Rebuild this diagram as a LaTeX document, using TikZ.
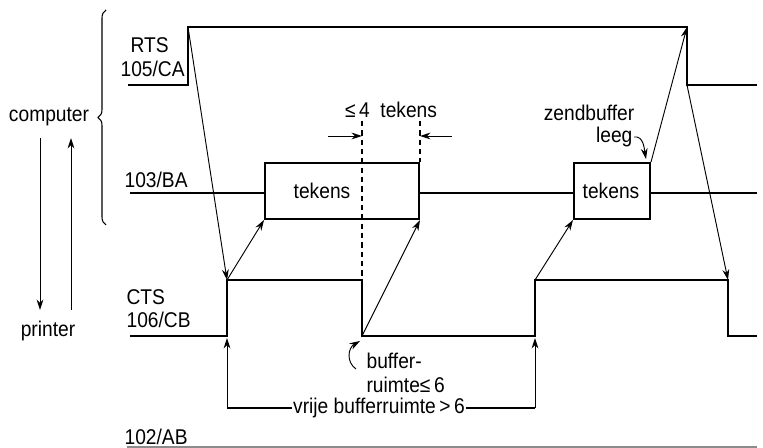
\documentclass[tikz,border=0pt]{standalone}
\usepackage{fontspec}
\setmainfont{Liberation Sans}[FakeStretch=0.9]
\usetikzlibrary{arrows.meta,positioning,calc,decorations.pathreplacing}
\tikzset{
  sig/.style  = {line width=1.5pt, line join=miter},
  wire/.style = {line width=0.9pt},
  box/.style  = {draw, line width=1.5pt, rectangle, inner sep=0pt},
  lbl/.style  = {font=\fontsize{16}{18}\selectfont, inner sep=1pt},
  ar/.style   = {-{Stealth[length=2.8mm,width=1.8mm]}, line width=0.7pt},
  dsh/.style  = {line width=0.9pt, dash pattern=on 4pt off 3pt},
}

\begin{document}
\begin{tikzpicture}[x=0.75pt,y=-0.75pt]
\useasboundingbox (0,0) rectangle (763,448);

%% ---- signal corners ----------------------------------------------------
\coordinate (r0) at (128,85);  \coordinate (r1) at (188,85);
\coordinate (r2) at (188,27);  \coordinate (r3) at (687,27);
\coordinate (r4) at (687,85);  \coordinate (r5) at (757,85);

\coordinate (c0) at (130,336); \coordinate (c1) at (227,336);
\coordinate (c2) at (227,280); \coordinate (c3) at (362,280);
\coordinate (c4) at (362,336); \coordinate (c5) at (535,336);
\coordinate (c6) at (535,280); \coordinate (c7) at (728,280);
\coordinate (c8) at (728,336); \coordinate (c9) at (757,336);

%% ---- labels ------------------------------------------------------------
\node[lbl, anchor=west] (rts)  at (129,45)  {RTS};
\node[lbl, anchor=west] (rtsn) at (119,69)  {105/CA};
\node[lbl, anchor=west] (ba)   at (123,180) {103/BA};
\node[lbl, anchor=west] (cts)  at (125,297) {CTS};
\node[lbl, anchor=west] (ctsn) at (125,320) {106/CB};
\node[lbl, anchor=west] (ab)   at (123,437) {102/AB};

\node[lbl] (comp) at (49,117) {computer};
\node[lbl] (prn)  at (48,331) {printer};

%% ---- RTS and CTS -------------------------------------------------------
\draw[sig] (r0) -- (r1) -- (r2) -- (r3) -- (r4) -- (r5);
\draw[sig] (c0) -- (c1) -- (c2) -- (c3) -- (c4) -- (c5) -- (c6) -- (c7)
  -- (c8) -- (c9);

%% ---- data line with characters -----------------------------------------
\node[box, minimum width=115.5pt, minimum height=42pt] (b1) at (342,191) {};
\node[box, minimum width=57pt, minimum height=42pt] (b2) at (612,191) {};
\node[lbl] (t1) at (322,191) {tekens};
\node[lbl] (t2) at (611,191) {tekens};
\coordinate (ba0) at (130,193);
\coordinate (ba1) at (757,193);
\draw[wire] (ba0) -- (ba0 -| b1.west);
\draw[wire] (ba0 -| b1.east) -- (ba0 -| b2.west);
\draw[wire] (ba0 -| b2.east) -- (ba1);

%% ---- handshake arrows --------------------------------------------------
\draw[ar] (r2) -- (c2);
\draw[ar] (c2) -- (b1.south west);
\draw[ar] (c4) -- (b1.south east);
\draw[ar] (c6) -- (b2.south west);
\draw[ar] (b2.north east) -- (r3);
\draw[ar] (r4) -- (c7);

%% ---- at most 4 characters ----------------------------------------------
\node[lbl] (four) at (391,110) {≤\,4\enspace tekens};
\coordinate (d1) at (362,121);
\coordinate (d2) at (420,121);
\draw[dsh] (d1) -- (c3);
\draw[dsh] (d2) -- (b1.north east);
\coordinate (m1) at (328,136);
\coordinate (m2) at (452,136);
\draw[ar] (m1) -- (m1 -| d1);
\draw[ar] (m2) -- (m2 -| d2);

%% ---- send buffer empty -------------------------------------------------
\node[lbl] (zend) at (589,113) {zendbuffer};
\node[lbl, anchor=east] (leeg) at (634,137) {leeg};
\coordinate (lg) at (646,159);
\draw[ar] (leeg.east) to[out=10, in=100] (lg);

%% ---- buffer space <= 6 -------------------------------------------------
\node[lbl, anchor=north west, align=left] (bufr) at (365,351)
  {buffer-\\ruimte≤\,6};
\coordinate (bc) at (356,369);
\coordinate (bt) at (360,341);
\draw[ar] (bc) .. controls (346,362) and (348,348) .. (bt);

%% ---- free buffer space > 6 ---------------------------------------------
\node[lbl] (vrij) at (379,408) {vrije bufferruimte\,>\,6};
\coordinate (v1) at (227,408);
\coordinate (v2) at (535,408);
\draw[wire] (vrij.west) -- (v1);
\draw[ar] (v1) -- ($(c1)+(0,2)$);
\draw[wire] (vrij.east) -- (v2);
\draw[ar] (v2) -- ($(c5)+(0,2)$);

%% ---- computer / printer ------------------------------------------------
\draw[decorate, decoration={brace, amplitude=6pt}, line width=0.8pt]
  (106,225) -- (106,10);
\coordinate (p1) at (40,138);  \coordinate (p2) at (40,310);
\coordinate (p3) at (71,310);  \coordinate (p4) at (71,138);
\draw[ar] (p1) -- (p2);
\draw[ar] (p3) -- (p4);

%% ---- 102/AB ------------------------------------------------------------
\coordinate (g0) at (127,447);
\coordinate (g1) at (757,447);
\draw[line width=1.2pt, black!45] (g0) -- (g1);
\end{tikzpicture}
\end{document}
